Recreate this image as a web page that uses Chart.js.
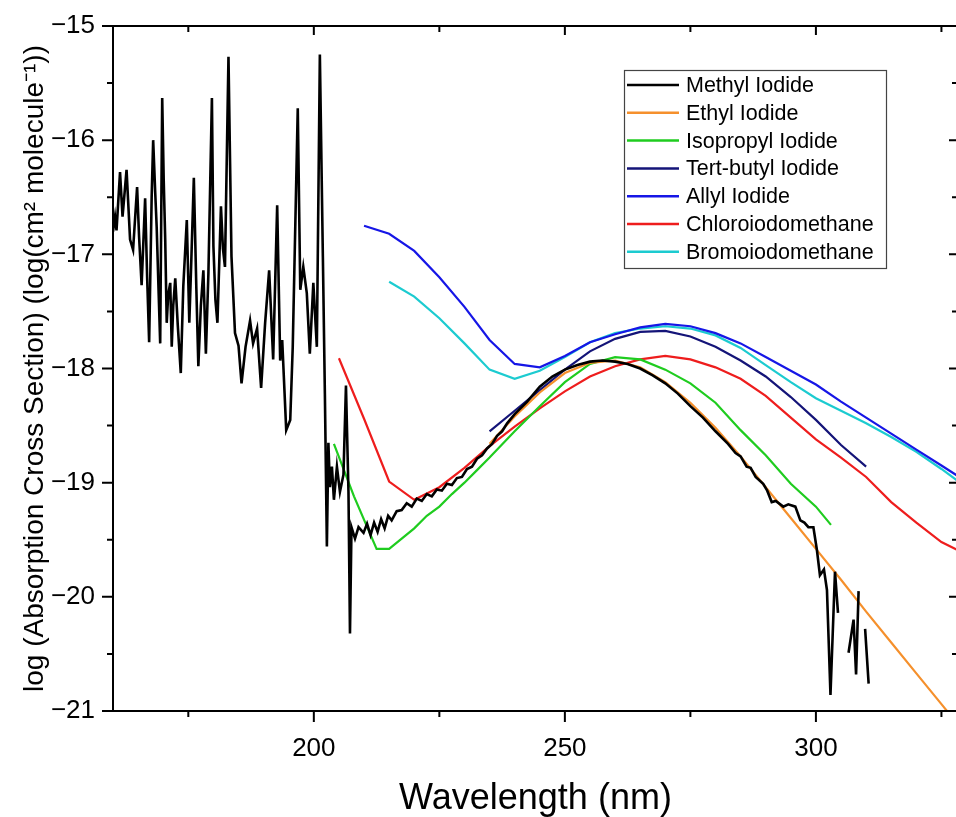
<!DOCTYPE html>
<html>
<head>
<meta charset="utf-8">
<script src="https://cdn.jsdelivr.net/npm/chart.js@4.4.1/dist/chart.umd.min.js"></script>
<style>
  html, body { margin: 0; padding: 0; background: #fff; overflow: hidden; }
  #wrap { position: absolute; left: 0; top: 0; width: 966px; height: 817px; }
</style>
</head>
<body>
<div id="wrap"><canvas id="spectra"></canvas></div>
<script>
// ========= DATA (wavelength in nm, log10 cross section) =========
const seriesNames = ['Methyl Iodide', 'Ethyl Iodide', 'Isopropyl Iodide', 'Tert-butyl Iodide',
    'Allyl Iodide', 'Chloroiodomethane', 'Bromoiodomethane'];

// null = gap in the measured spectrum
const methylWl = [160.0, 160.4, 160.7, 161.4, 161.9, 162.7, 163.4, 164.0, 164.8, 165.2, 165.7, 166.4, 166.8, 167.2,
    167.7, 168.0, 168.4, 168.7, 169.1, 169.4, 169.8, 170.1, 170.4, 170.7, 171.0, 171.4, 171.7, 172.0, 172.4, 172.9,
    173.5, 174.0, 174.7, 175.2, 175.6, 176.1, 176.6, 177.0, 177.5, 178.0, 178.5, 179.0, 179.7, 180.0, 180.4, 180.8,
    181.5, 181.9, 182.3, 183.0, 183.6, 184.3, 185.0, 185.6, 186.4, 187.3, 187.9, 188.7, 189.5, 190.3, 191.1, 191.9,
    192.7, 193.3, 193.7, 194.5, 195.3, 195.8, 196.8, 197.3, 197.9, 198.6, 199.2, 199.9, 200.6, 201.2, 201.8, 202.2,
    202.6, 202.9, 203.2, 203.6, 204.0, 204.6, 205.2, 205.9, 206.4, 206.9, 207.2, 207.5, 208.2, 208.9, 209.9, 210.6,
    211.3, 212.0, 212.7, 213.4, 214.1, 214.8, 215.5, 216.5, 217.5, 218.5, 219.5, 220.5, 221.5, 222.5, 223.5, 224.5,
    225.5, 226.5, 227.5, 228.5, 229.5, 230.5, 231.5, 232.5, 233.5, 234.5, 235.5, 236.5, 237.5, 238.5, 240, 242.5,
    245, 247.5, 250, 252.5, 255, 257.5, 260, 262.5, 265, 267.5, 270, 272.5, 275, 277.5, 280, 282.5, 284, 285, 286.2,
    287, 288, 289.5, 290.3, 291.2, 292, 293.5, 294.5, 295.9, 296.9, 297.7, 298.5, 299.5, 300.2, 300.8, 301.6, 302.2,
    302.9, 303.8, 304.4, 305.4, 306.5, 307.5, 308.0, 308.5, 309.1, 309.8, 310.5];
const methylVal = [-16.80, -16.67, -16.79, -16.28, -16.67, -16.26, -16.87, -16.96, -16.41, -16.85, -17.27, -16.51,
    -17.20, -17.77, -16.50, -16.00, -16.45, -16.76, -17.35, -17.78, -15.63, -16.35, -16.87, -17.60, -17.35, -17.25,
    -17.81, -17.45, -17.21, -17.62, -18.04, -17.28, -16.70, -17.60, -17.05, -16.33, -17.30, -17.98, -17.45, -17.14,
    -17.87, -17.17, -15.63, -16.93, -17.40, -17.60, -16.58, -16.95, -17.11, -15.27, -17.02, -17.69, -17.80, -18.13,
    -17.81, -17.58, -17.78, -17.65, -18.17, -17.60, -17.14, -17.92, -16.57, -17.93, -17.75, -18.54, -18.45, -17.81,
    -15.72, -17.31, -17.11, -17.34, -17.87, -17.25, -17.81, -15.25, -17.02, -18.22, -19.56, -18.65, -19.04, -18.86,
    -19.15, -18.86, -19.08, -18.93, -18.15, -19.08, -20.32, -19.39, -19.49, -19.39, -19.44, -19.36, -19.46, -19.35,
    -19.43, -19.32, -19.40, -19.29, -19.33, -19.25, -19.24, -19.18, -19.21, -19.14, -19.16, -19.10, -19.12, -19.06,
    -19.07, -19.01, -19.02, -18.96, -18.95, -18.88, -18.86, -18.79, -18.76, -18.70, -18.66, -18.59, -18.55, -18.48,
    -18.40, -18.29, -18.16, -18.07, -18.01, -17.97, -17.94, -17.93, -17.94, -17.96, -18.00, -18.06, -18.13, -18.22,
    -18.33, -18.43, -18.55, -18.66, -18.74, -18.77, -18.86, -18.87, -18.95, -19.01, -19.07, -19.17, -19.16, -19.21,
    -19.19, -19.21, -19.33, -19.35, -19.39, -19.39, -19.59, -19.81, -19.76, -19.94, -20.86, -19.78, -20.14, null,
    -20.49, -20.20, -20.68, -19.95, null, -20.28, -20.76];

const ethylWl = [235, 240, 245, 250, 255, 260, 265, 270, 275, 280, 285, 290, 295, 300, 305, 310, 315, 320, 325, 330];
const ethylVal = [-18.66, -18.42, -18.21, -18.04, -17.95, -17.93, -17.99, -18.12, -18.30, -18.52, -18.77, -19.04,
    -19.31, -19.58, -19.85, -20.13, -20.40, -20.67, -20.94, -21.21];

const isopropylWl = [204, 208, 212.5, 215, 217.5, 220, 222.5, 225, 227.5, 230, 232.5, 235, 240, 245, 250, 255, 260,
    265, 270, 275, 280, 285, 290, 295, 300, 303];
const isopropylVal = [-18.66, -19.12, -19.58, -19.58, -19.49, -19.40, -19.29, -19.21, -19.10, -19.00, -18.89, -18.78,
    -18.55, -18.33, -18.12, -17.96, -17.90, -17.92, -18.01, -18.13, -18.30, -18.54, -18.76, -19.01, -19.21, -19.37];

const tertButylWl = [235, 240, 245, 250, 255, 260, 265, 270, 275, 280, 285, 290, 295, 300, 305, 310];
const tertButylVal = [-18.55, -18.37, -18.19, -18.01, -17.85, -17.74, -17.68, -17.67, -17.72, -17.81, -17.93, -18.07,
    -18.25, -18.45, -18.67, -18.86];

const allylWl = [210, 215, 220, 225, 230, 235, 240, 245, 250, 255, 260, 265, 270, 275, 280, 285, 290, 295, 300, 305,
    310, 315, 320, 325, 330];
const allylVal = [-16.75, -16.82, -16.97, -17.20, -17.46, -17.75, -17.96, -17.99, -17.89, -17.77, -17.70, -17.64,
    -17.61, -17.63, -17.69, -17.78, -17.90, -18.02, -18.14, -18.29, -18.43, -18.57, -18.71, -18.85, -18.99];

const chloroWl = [205, 210, 215, 220, 225, 230, 235, 240, 245, 250, 255, 260, 265, 270, 275, 280, 285, 290, 295, 300,
    305, 310, 315, 320, 325, 330];
const chloroVal = [-17.91, -18.44, -18.99, -19.15, -19.04, -18.87, -18.68, -18.51, -18.35, -18.20, -18.07, -17.98,
    -17.92, -17.89, -17.92, -17.99, -18.09, -18.24, -18.43, -18.62, -18.78, -18.95, -19.17, -19.35, -19.52, -19.63];

const bromoWl = [215, 220, 225, 230, 235, 240, 245, 250, 255, 260, 265, 270, 275, 280, 285, 290, 295, 300, 305, 310,
    315, 320, 325, 330];
const bromoVal = [-17.24, -17.37, -17.56, -17.78, -18.01, -18.09, -18.02, -17.90, -17.77, -17.69, -17.65, -17.63,
    -17.65, -17.71, -17.82, -17.97, -18.12, -18.26, -18.37, -18.48, -18.60, -18.73, -18.88, -19.04];

const xMajorTicks = [200, 250, 300];
const xMinorTicks = [175, 225, 275, 325];
const yMajorTicks = [-21, -20, -19, -18, -17, -16, -15];
const yMinorTicks = [-20.5, -19.5, -18.5, -17.5, -16.5, -15.5];

// ========= STYLE =========
const FONT = "'Liberation Sans', Arial, sans-serif";
const colors = ['#000000', '#f5902c', '#1fcc1f', '#141478', '#1616e6', '#ee1d1d', '#1ccbd0'];
const widths = [2.6, 2.2, 2.2, 2.2, 2.2, 2.2, 2.2];

function toPoints(wl, val) {
    return wl.map((x, i) => ({ x, y: val[i] }));
}

const allSeries = [
    [methylWl, methylVal], [ethylWl, ethylVal], [isopropylWl, isopropylVal], [tertButylWl, tertButylVal],
    [allylWl, allylVal], [chloroWl, chloroVal], [bromoWl, bromoVal]
];

const datasets = allSeries.map(([wl, val], i) => ({
    label: seriesNames[i],
    data: toPoints(wl, val),
    borderColor: colors[i],
    backgroundColor: colors[i],
    borderWidth: widths[i],
    pointRadius: 0,
    tension: 0,
    fill: false,
    spanGaps: false
}));

// ticks (major/minor, inner on top/right) + frame + legend box
const framePlugin = {
    id: 'frame',
    afterDatasetsDraw(chart) {
        const { ctx, chartArea: a, scales: { x, y } } = chart;
        ctx.save();
        ctx.strokeStyle = '#000';
        ctx.lineWidth = 2;
        ctx.beginPath();
        ctx.moveTo(a.left, a.bottom); ctx.lineTo(a.left, a.top); ctx.lineTo(a.right, a.top); ctx.lineTo(a.right, a.bottom);
        ctx.lineTo(a.left, a.bottom);
        ctx.stroke();

        const tick = (list, len, inLen) => {
            list.forEach(v => {
                const px = x.getPixelForValue(v);
                ctx.moveTo(px, a.bottom); ctx.lineTo(px, a.bottom + len);
                ctx.moveTo(px, a.top); ctx.lineTo(px, a.top + inLen);
            });
        };
        const ytick = (list, len, inLen) => {
            list.forEach(v => {
                const py = y.getPixelForValue(v);
                ctx.moveTo(a.left, py); ctx.lineTo(a.left - len, py);
                ctx.moveTo(a.right, py); ctx.lineTo(a.right - inLen, py);
            });
        };
        ctx.beginPath();
        tick(xMajorTicks, 11, 9);
        tick(xMinorTicks, 6, 6);
        ytick(yMajorTicks, 11, 9);
        ytick(yMinorTicks, 6, 6);
        ctx.stroke();

        // legend
        const lx = 624, ly = 70, lw = 262, lh = 198;
        ctx.fillStyle = '#fff';
        ctx.fillRect(lx, ly, lw, lh);
        ctx.lineWidth = 1.2;
        ctx.strokeStyle = '#444';
        ctx.strokeRect(lx + 0.5, ly + 0.5, lw, lh);
        ctx.font = '21.5px ' + FONT;
        ctx.textBaseline = 'middle';
        ctx.textAlign = 'left';
        chart.data.datasets.forEach((ds, i) => {
            const cy = ly + 15 + i * 27.8;
            ctx.strokeStyle = ds.borderColor;
            ctx.lineWidth = 2.5;
            ctx.beginPath();
            ctx.moveTo(627, cy); ctx.lineTo(679, cy);
            ctx.stroke();
            ctx.fillStyle = '#000';
            ctx.fillText(ds.label, 686, cy + 1);
        });
        ctx.restore();
    }
};

new Chart(document.getElementById('spectra'), {
    type: 'line',
    data: { datasets },
    options: {
        responsive: true,
        maintainAspectRatio: false,
        animation: false,
        layout: { padding: { top: 26, right: 8, left: 0, bottom: 0 } },
        plugins: {
            legend: { display: false },
            tooltip: { enabled: false }
        },
        scales: {
            x: {
                type: 'linear',
                min: 160,
                max: 328.3,
                grid: { display: false, drawTicks: false },
                border: { display: false },
                afterBuildTicks: scale => { scale.ticks = xMajorTicks.map(v => ({ value: v })); },
                afterFit: scale => {
                    scale.height = 106;
                    scale.paddingLeft = 0;
                    scale.paddingRight = 0;
                },
                ticks: {
                    padding: 22,
                    color: '#000',
                    maxRotation: 0,
                    font: { family: FONT, size: 26 }
                },
                title: {
                    display: true,
                    text: 'Wavelength (nm)',
                    color: '#000',
                    padding: { top: 0, bottom: 0 },
                    font: { family: FONT, size: 36, lineHeight: 1 }
                }
            },
            y: {
                min: -21,
                max: -15,
                grid: { display: false, drawTicks: false },
                border: { display: false },
                afterBuildTicks: scale => { scale.ticks = yMajorTicks.map(v => ({ value: v })); },
                afterFit: scale => {
                    scale.width = 113;
                    scale.paddingTop = 0;
                    scale.paddingBottom = 0;
                },
                ticks: {
                    padding: 18,
                    color: '#000',
                    font: { family: FONT, size: 26 },
                    callback: v => String(v).replace('-', '\u2212')
                },
                title: {
                    display: true,
                    text: 'log (Absorption Cross Section) (log(cm² molecule⁻¹))',
                    color: '#000',
                    padding: { top: 18, bottom: 0 },
                    font: { family: FONT, size: 28 }
                }
            }
        }
    },
    plugins: [framePlugin]
});
</script>
</body>
</html>
